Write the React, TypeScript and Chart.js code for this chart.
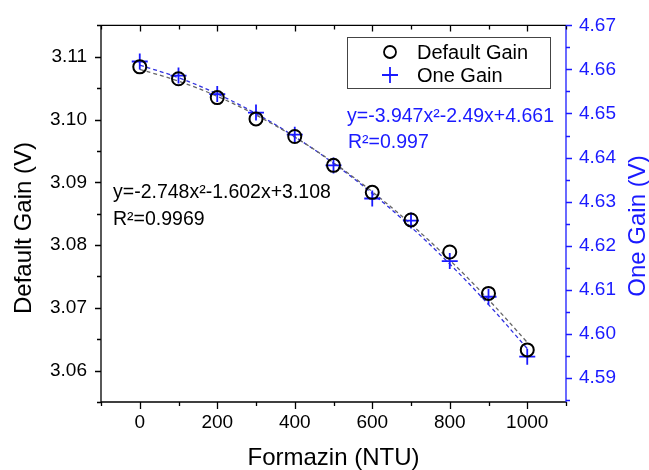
import React, { useEffect, useRef } from "react";
import { Chart, registerables } from "chart.js";

Chart.register(...registerables);

// ---------- data ----------
const formazin = [0, 100, 200, 300, 400, 500, 600, 700, 800, 900, 1000];
const defaultGain = [3.1084, 3.1065, 3.1035, 3.1001, 3.0973, 3.0927, 3.0884, 3.084, 3.0789, 3.0723, 3.0633];
const oneGain = [4.6618, 4.6586, 4.6544, 4.6502, 4.6452, 4.6382, 4.6307, 4.6257, 4.6165, 4.6084, 4.5948];
// fitted curves (values of the printed fit equations at the same x)
const defaultFit = [3.108, 3.10612, 3.1037, 3.10072, 3.0972, 3.09312, 3.0885, 3.08332, 3.0776, 3.07132, 3.0645];
const oneFit = [4.661, 4.65812, 4.65444, 4.64998, 4.64472, 4.63868, 4.63185, 4.62423, 4.61582, 4.60662, 4.59663];

const xTicks = [0, 200, 400, 600, 800, 1000];
const leftTicks = [3.06, 3.07, 3.08, 3.09, 3.1, 3.11];
const rightTicks = [4.59, 4.6, 4.61, 4.62, 4.63, 4.64, 4.65, 4.66, 4.67];

const xRange = [-100, 1100];
const leftRange = [3.055, 3.115];
const rightRange = [4.5845, 4.67];

const defaultEq = "y=-2.748x²-1.602x+3.108";
const defaultR2 = "R²=0.9969";
const oneEq = "y=-3.947x²-2.49x+4.661";
const oneR2 = "R²=0.997";

const xTitle = "Formazin (NTU)";
const leftTitle = "Default Gain (V)";
const rightTitle = "One Gain (V)";
const legendLabels = ["Default Gain", "One Gain"];

const BLUE = "#1a1aff";
const FONT = "'Liberation Sans', Arial, sans-serif";

const pts = (ys: number[]) => formazin.map((x, i) => ({ x, y: ys[i] }));

const framePlugin = {
  id: "frame",
  afterDraw(chart: any) {
    const { ctx, chartArea } = chart;
    const { left, right, top, bottom } = chartArea;
    const xs = chart.scales.x;
    const yl = chart.scales.y;
    const yr = chart.scales.y1;
    ctx.save();
    ctx.lineWidth = 1.3;
    // frame
    ctx.strokeStyle = "#000";
    ctx.beginPath();
    ctx.moveTo(left, top);
    ctx.lineTo(right, top);
    ctx.moveTo(left, top);
    ctx.lineTo(left, bottom);
    ctx.lineTo(right, bottom);
    ctx.stroke();
    ctx.strokeStyle = BLUE;
    ctx.beginPath();
    ctx.moveTo(right, top);
    ctx.lineTo(right, bottom);
    ctx.stroke();

    // x ticks
    ctx.strokeStyle = "#000";
    ctx.beginPath();
    for (let v = xRange[0]; v <= xRange[1] + 1e-9; v += 100) {
      const major = xTicks.includes(v);
      const px = Math.round(xs.getPixelForValue(v)) + 0.5;
      ctx.moveTo(px, bottom);
      ctx.lineTo(px, bottom + (major ? 7 : 4));
      ctx.moveTo(px, top);
      ctx.lineTo(px, top + (major ? 6 : 4));
    }
    ctx.stroke();
    // left ticks
    ctx.beginPath();
    for (let i = 0; i <= 12; i++) {
      const v = leftRange[0] + i * 0.005;
      const major = i % 2 === 1;
      const py = Math.round(yl.getPixelForValue(v)) + 0.5;
      ctx.moveTo(left, py);
      ctx.lineTo(left - (major ? 6 : 4), py);
    }
    ctx.stroke();
    // right ticks
    ctx.strokeStyle = BLUE;
    ctx.beginPath();
    rightTicks.forEach((v) => {
      const py = Math.round(yr.getPixelForValue(v)) + 0.5;
      ctx.moveTo(right, py);
      ctx.lineTo(right + 6, py);
      const m = v - 0.005;
      if (m >= rightRange[0]) {
        const pm = Math.round(yr.getPixelForValue(m)) + 0.5;
        ctx.moveTo(right, pm);
        ctx.lineTo(right + 4, pm);
      }
    });
    ctx.stroke();

    // axis titles
    ctx.font = `24px ${FONT}`;
    ctx.textAlign = "center";
    ctx.textBaseline = "middle";
    ctx.fillStyle = "#000";
    ctx.fillText(xTitle, (left + right) / 2, 458);
    ctx.save();
    ctx.translate(24, 228);
    ctx.rotate(-Math.PI / 2);
    ctx.fillText(leftTitle, 0, 0);
    ctx.restore();
    ctx.save();
    ctx.fillStyle = BLUE;
    ctx.translate(638, 226);
    ctx.rotate(-Math.PI / 2);
    ctx.fillText(rightTitle, 0, 0);
    ctx.restore();

    // equations
    ctx.textAlign = "left";
    ctx.textBaseline = "alphabetic";
    ctx.font = `19.5px ${FONT}`;
    ctx.fillStyle = "#000";
    ctx.fillText(defaultEq, left + 12, 198);
    ctx.fillText(defaultR2, left + 12, 225);
    ctx.fillStyle = BLUE;
    ctx.fillText(oneEq, 347, 122);
    ctx.fillText(oneR2, 348, 148);

    // legend
    ctx.strokeStyle = "#444";
    ctx.lineWidth = 1;
    ctx.strokeRect(347.5, 37.5, 203, 51);
    ctx.lineWidth = 1.8;
    ctx.strokeStyle = "#000";
    ctx.beginPath();
    ctx.arc(390, 52, 6, 0, Math.PI * 2);
    ctx.stroke();
    ctx.strokeStyle = BLUE;
    ctx.beginPath();
    ctx.moveTo(382, 75);
    ctx.lineTo(398, 75);
    ctx.moveTo(390, 67);
    ctx.lineTo(390, 83);
    ctx.stroke();
    ctx.font = `20px ${FONT}`;
    ctx.fillStyle = "#000";
    ctx.fillText(legendLabels[0], 417, 58.5);
    ctx.fillText(legendLabels[1], 417, 82);
    ctx.restore();
  },
};

export default function App() {
  const ref = useRef<HTMLCanvasElement>(null);
  useEffect(() => {
    document.body.style.margin = "0";
    const chart = new Chart(ref.current!, {
      type: "scatter",
      data: {
        datasets: [
          {
            label: legendLabels[0],
            data: pts(defaultGain),
            yAxisID: "y",
            pointStyle: "circle",
            pointRadius: 6.5,
            borderColor: "#000",
            backgroundColor: "rgba(0,0,0,0)",
            borderWidth: 2,
            showLine: false,
          },
          {
            label: legendLabels[1],
            data: pts(oneGain),
            yAxisID: "y1",
            pointStyle: "cross",
            pointRadius: 8,
            borderColor: BLUE,
            backgroundColor: BLUE,
            borderWidth: 1.8,
            showLine: false,
          },
          {
            label: "fit default",
            data: pts(defaultFit),
            yAxisID: "y",
            showLine: true,
            pointRadius: 0,
            borderColor: "#666",
            borderWidth: 1.3,
            borderDash: [4, 3],
            tension: 0.4,
          },
          {
            label: "fit one",
            data: pts(oneFit),
            yAxisID: "y1",
            showLine: true,
            pointRadius: 0,
            borderColor: "#3030e0",
            borderWidth: 1.3,
            borderDash: [4, 3],
            tension: 0.4,
          },
        ],
      },
      options: {
        animation: false,
        responsive: false,
        events: [],
        layout: { padding: { top: 24, left: 0, right: 0, bottom: 0 } },
        plugins: { legend: { display: false }, tooltip: { enabled: false } },
        scales: {
          x: {
            type: "linear",
            min: xRange[0],
            max: xRange[1],
            afterBuildTicks: (s: any) => {
              s.ticks = xTicks.map((v) => ({ value: v }));
            },
            afterFit: (s: any) => {
              s.height = 68;
            },
            grid: { display: false, drawTicks: false },
            border: { display: false },
            ticks: {
              font: { family: FONT, size: 19 },
              color: "#000",
              padding: 9,
              maxRotation: 0,
              callback: (v: any) => String(v),
            },
          },
          y: {
            type: "linear",
            position: "left",
            min: leftRange[0],
            max: leftRange[1],
            afterBuildTicks: (s: any) => {
              s.ticks = leftTicks.map((v) => ({ value: v }));
            },
            afterFit: (s: any) => {
              s.width = 101;
            },
            grid: { display: false, drawTicks: false },
            border: { display: false },
            ticks: {
              font: { family: FONT, size: 19 },
              color: "#000",
              padding: 14,
              callback: (v: any) => Number(v).toFixed(2),
            },
          },
          y1: {
            type: "linear",
            position: "right",
            min: rightRange[0],
            max: rightRange[1],
            afterBuildTicks: (s: any) => {
              s.ticks = rightTicks.map((v) => ({ value: v }));
            },
            afterFit: (s: any) => {
              s.width = 83;
            },
            grid: { display: false, drawTicks: false },
            border: { display: false },
            ticks: {
              font: { family: FONT, size: 19 },
              color: BLUE,
              padding: 13,
              callback: (v: any) => Number(v).toFixed(2),
            },
          },
        },
      },
      plugins: [framePlugin],
    });
    return () => chart.destroy();
  }, []);
  return (
    <div style={{ position: "fixed", left: 0, top: 0, width: 649, height: 470, background: "#fff" }}>
      <canvas ref={ref} width={649} height={470} />
    </div>
  );
}
